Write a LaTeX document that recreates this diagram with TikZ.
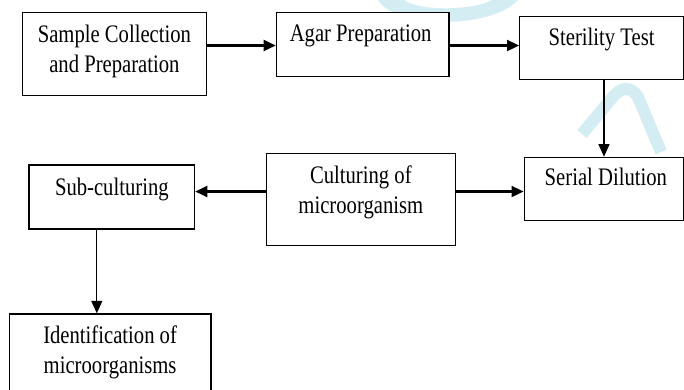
\documentclass[tikz,border=0pt]{standalone}
\usepackage{fontspec}
\setmainfont{Liberation Serif}[FakeStretch=0.82]
\usetikzlibrary{arrows.meta,calc}
\definecolor{wm}{RGB}{212,237,243}
\begin{document}
\begin{tikzpicture}[x=1pt,y=-1pt,
  box/.style={draw=black,line width=1.2pt,fill=white,rectangle,inner sep=0pt,anchor=north west},
  txt/.style={anchor=base,inner sep=0pt,font=\fontsize{25.2}{30}\selectfont},
  arr/.style={line width=2.3pt,-{Triangle[length=12pt,width=11pt]}},
  varr/.style={line width=1.1pt,-{Triangle[length=12.5pt,width=11pt]}}]
\clip (0,0) rectangle (684,389);
\fill[white] (0,0) rectangle (684,389);
% watermark
\fill[wm] (378,0) .. controls (395,28) and (490,30) .. (518,0) -- (492,0) .. controls (475,10) and (420,12) .. (404,0) -- cycle;
\draw[wm,line width=12pt] (582,134) -- (611,99) .. controls (621,86) and (631,86) .. (638,97) -- (661,152);
% boxes
\node[box,minimum width=184pt,minimum height=83.3pt] (s) at (21.8,11.7) {};
\node[box,minimum width=172.7pt,minimum height=64.3pt] (a) at (275.7,11.7) {};
\node[box,minimum width=164pt,minimum height=63pt] (st) at (519,16) {};
\node[box,minimum width=159.5pt,minimum height=63.3pt] (se) at (523.5,156.7) {};
\node[box,minimum width=188.5pt,minimum height=92.3pt] (c) at (266,152.7) {};
\node[box,minimum width=165.7pt,minimum height=64pt] (sb) at (28.4,164.3) {};
\node[box,minimum width=201.6pt,minimum height=90pt] (id) at (8.7,313.3) {};
% texts
\node[txt] (s1) at ($(s.north)+(0,31)$) {Sample Collection};
\node[txt] (s2) at ($(s.north)+(0,61)$) {and Preparation};
\node[txt] (a1) at ($(a.north)+(-2,30)$) {Agar Preparation};
\node[txt] (st1) at ($(st.north)+(0,29)$) {Sterility Test};
\node[txt] (se1) at ($(se.north)+(2,28.3)$) {Serial Dilution};
\node[txt] (c1) at ($(c.north)+(0,30.3)$) {Culturing of};
\node[txt] (c2) at ($(c.north)+(0,60.3)$) {microorganism};
\node[txt] (sb1) at ($(sb.north)+(0,30.7)$) {Sub-culturing};
\node[txt] (id1) at ($(id.north)+(0,29.7)$) {Identification of};
\node[txt] (id2) at ($(id.north)+(0,59.7)$) {microorganisms};
% connectors
\draw[arr] (s.east |- 0,45.5) -- (a.west |- 0,45.5);
\draw[arr] (a.east |- 0,45.5) -- (st.west |- 0,45.5);
\draw[varr] (st.south -| 604,0) -- (se.north -| 604,0);
\draw[arr] (c.west |- 0,191.5) -- (sb.east |- 0,191.5);
\draw[arr] (c.east |- 0,191.5) -- (se.west |- 0,191.5);
\draw[varr] (sb.south -| 96.8,0) -- (id.north -| 96.8,0);
\end{tikzpicture}
\end{document}
